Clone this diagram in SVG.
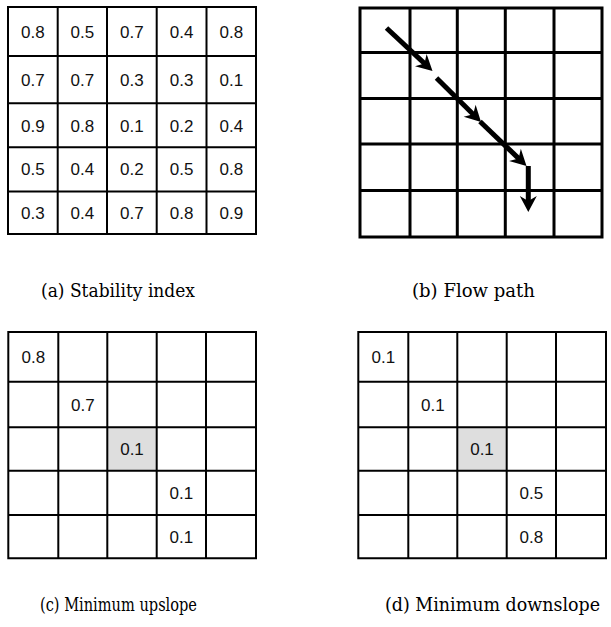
<svg xmlns="http://www.w3.org/2000/svg" width="611" height="627" viewBox="0 0 611 627">
<style>
.grid{fill:none;stroke:#000;stroke-width:2}
.gridb{fill:none;stroke:#000;stroke-width:3}
.v{font-family:'Liberation Sans',Arial,sans-serif;font-size:17px;fill:#111;text-anchor:middle}
.cap{font-family:'DejaVu Serif',serif;font-size:18px;fill:#000}
.flow{fill:none;stroke:#000;stroke-width:5;stroke-linecap:butt}
</style>
<defs>
<marker id="ah" markerUnits="userSpaceOnUse" viewBox="-7 -9 18 18" markerWidth="18" markerHeight="18" refX="0" refY="0" orient="auto" overflow="visible">
<path d="M10,0 L-6,-8.5 L-1,0 L-6,8.5 Z" fill="#000"/>
</marker>
</defs>
<rect width="611" height="627" fill="#fff"/>

<g id="panel-a">
<path class="grid" d="M8 7H256V234H8Z M57.7 7V234 M107 7V234 M156.7 7V234 M206.5 7V234 M8 56H256 M8 103.3H256 M8 147.3H256 M8 191.5H256"/>
<g class="v">
<text x="32.9" y="37.5">0.8</text><text x="82.4" y="37.5">0.5</text><text x="131.9" y="37.5">0.7</text><text x="181.6" y="37.5">0.4</text><text x="231.3" y="37.5">0.8</text>
<text x="32.9" y="85.5">0.7</text><text x="82.4" y="85.5">0.7</text><text x="131.9" y="85.5">0.3</text><text x="181.6" y="85.5">0.3</text><text x="231.3" y="85.5">0.1</text>
<text x="32.9" y="131.5">0.9</text><text x="82.4" y="131.5">0.8</text><text x="131.9" y="131.5">0.1</text><text x="181.6" y="131.5">0.2</text><text x="231.3" y="131.5">0.4</text>
<text x="32.9" y="175.3">0.5</text><text x="82.4" y="175.3">0.4</text><text x="131.9" y="175.3">0.2</text><text x="181.6" y="175.3">0.5</text><text x="231.3" y="175.3">0.8</text>
<text x="32.9" y="218.8">0.3</text><text x="82.4" y="218.8">0.4</text><text x="131.9" y="218.8">0.7</text><text x="181.6" y="218.8">0.8</text><text x="231.3" y="218.8">0.9</text>
</g>
<text class="cap" x="41" y="297" textLength="154" lengthAdjust="spacingAndGlyphs">(a) Stability index</text>
</g>

<g id="panel-b">
<path class="gridb" d="M360 8H602V237H360Z M410 8V237 M457.3 8V237 M505.3 8V237 M554 8V237 M360 52.5H602 M360 98.5H602 M360 144H602 M360 190.5H602"/>
<text class="cap" x="412" y="297" textLength="123" lengthAdjust="spacingAndGlyphs">(b) Flow path</text>
</g>

<g id="panel-c">
<rect x="107.3" y="427.3" width="49.4" height="43.4" fill="#dedede"/>
<path class="grid" d="M8.3 332H256V558.3H8.3Z M58.3 332V558.3 M107.3 332V558.3 M156.7 332V558.3 M206 332V558.3 M8.3 381.7H256 M8.3 427.3H256 M8.3 470.7H256 M8.3 515H256"/>
<g class="v">
<text x="33.3" y="363">0.8</text>
<text x="82.8" y="410.5">0.7</text>
<text x="132" y="455">0.1</text>
<text x="181.4" y="499">0.1</text>
<text x="181.4" y="542.7">0.1</text>
</g>
<text class="cap" x="40" y="611" textLength="157" lengthAdjust="spacingAndGlyphs">(c) Minimum upslope</text>
</g>

<g id="panel-d">
<rect x="457.3" y="427.3" width="49.4" height="43.4" fill="#dedede"/>
<path class="grid" d="M358.3 332H606V558.3H358.3Z M408.3 332V558.3 M457.3 332V558.3 M506.7 332V558.3 M556 332V558.3 M358.3 381.7H606 M358.3 427.3H606 M358.3 470.7H606 M358.3 515H606"/>
<g class="v">
<text x="383.3" y="363">0.1</text>
<text x="432.8" y="410.5">0.1</text>
<text x="482" y="455">0.1</text>
<text x="531.4" y="499">0.5</text>
<text x="531.4" y="542.7">0.8</text>
</g>
<text class="cap" x="385" y="611" textLength="215" lengthAdjust="spacingAndGlyphs">(d) Minimum downslope</text>
</g>

<g id="connectors">
<line class="flow" x1="386.5" y1="28" x2="425.2" y2="64.2" marker-end="url(#ah)"/>
<line class="flow" x1="436.5" y1="78" x2="473.9" y2="115" marker-end="url(#ah)"/>
<line class="flow" x1="480" y1="121.5" x2="519.3" y2="159.1" marker-end="url(#ah)"/>
<line class="flow" x1="528.3" y1="166" x2="528.3" y2="202" marker-end="url(#ah)"/>
</g>
</svg>
